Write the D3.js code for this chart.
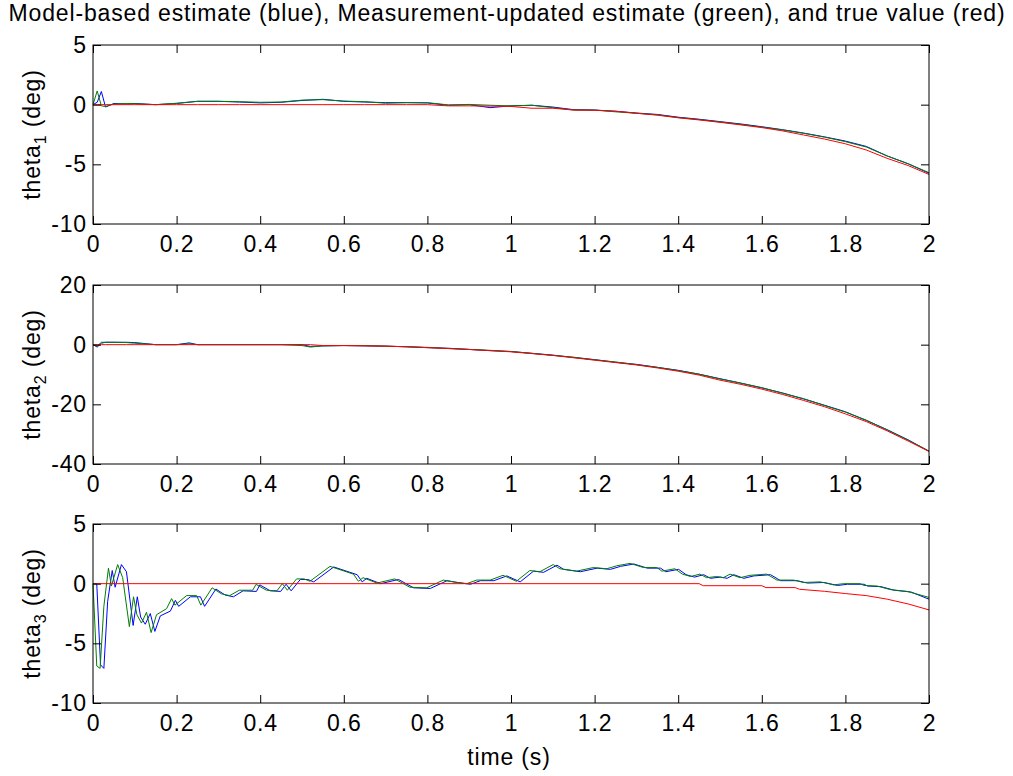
<!DOCTYPE html>
<html>
<head>
<meta charset="utf-8">
<script src="https://cdn.jsdelivr.net/npm/d3@7"></script>
<style>
  body { margin: 0; background: #fff; }
  text { font-family: "Liberation Sans", Arial, sans-serif; }
</style>
</head>
<body>
<svg id="chart" width="1013" height="776"></svg>
<script>
// ---- data ----
const xTicks = [0, 0.2, 0.4, 0.6, 0.8, 1, 1.2, 1.4, 1.6, 1.8, 2];

// theta1
const t1 = [0, 0.01, 0.02, 0.03, 0.05, 0.08, 0.1, 0.15, 0.2, 0.25, 0.3, 0.35, 0.4, 0.45, 0.5, 0.55, 0.6, 0.65, 0.7, 0.75, 0.8,
  0.85, 0.9, 0.95, 1.0, 1.05, 1.1, 1.15, 1.2, 1.25, 1.3, 1.35, 1.4, 1.45, 1.5, 1.55, 1.6, 1.65, 1.7, 1.75, 1.8, 1.85, 1.9, 1.95, 2.0];
const theta1Model = [0, 0.2, 1.1, -0.2, 0.1, 0.05, 0.1, 0.0, 0.1, 0.28, 0.28, 0.22, 0.15, 0.2, 0.35, 0.45, 0.28, 0.22, 0.17, 0.17, 0.14,
  -0.05, 0.0, -0.25, -0.1, -0.05, -0.2, -0.42, -0.45, -0.55, -0.7, -0.82, -1.05, -1.22, -1.42, -1.62, -1.85, -2.1, -2.38, -2.7, -3.05, -3.5, -4.3, -4.95, -5.75];
const theta1Meas = [0, 1.15, -0.1, -0.15, 0.05, 0.1, 0.08, 0.0, 0.12, 0.28, 0.28, 0.25, 0.2, 0.22, 0.38, 0.42, 0.3, 0.25, 0.12, 0.17, 0.17,
  -0.02, 0.02, -0.05, -0.1, -0.05, -0.25, -0.45, -0.45, -0.6, -0.72, -0.85, -1.08, -1.25, -1.45, -1.65, -1.88, -2.12, -2.4, -2.72, -3.1, -3.55, -4.3, -4.95, -5.7];
const theta1True = [0, 0, 0, 0, 0, 0, 0, 0, 0, 0, 0, 0, 0, 0, 0, 0, 0, 0, 0, 0, 0,
  -0.1, -0.1, -0.12, -0.15, -0.3, -0.3, -0.45, -0.47, -0.55, -0.72, -0.88, -1.1, -1.28, -1.48, -1.7, -1.92, -2.2, -2.54, -2.88, -3.28, -3.8, -4.5, -5.1, -5.85];

// theta2
const t2 = [0, 0.01, 0.02, 0.03, 0.05, 0.08, 0.1, 0.15, 0.2, 0.23, 0.25, 0.3, 0.35, 0.4, 0.45, 0.5, 0.52,
  0.55, 0.6, 0.65, 0.7, 0.75, 0.8, 0.85, 0.9, 0.95, 1.0, 1.05, 1.1, 1.15, 1.2, 1.25, 1.3, 1.35, 1.4, 1.45, 1.5,
  1.55, 1.6, 1.65, 1.7, 1.75, 1.8, 1.85, 1.9, 1.95, 2.0];
const theta2Model = [0, -0.8, 0.5, 0.8, 0.8, 0.8, 0.7, 0, 0, 0.6, 0, 0, 0, 0, 0, 0, -0.6,
  -0.4, -0.3, -0.4, -0.5, -0.7, -1.0, -1.2, -1.6, -2.0, -2.3, -2.9, -3.5, -4.3, -5.0, -5.9, -6.6, -7.6, -8.6, -9.9, -11.4,
  -12.9, -14.5, -16.2, -18.2, -20.3, -22.5, -25.4, -28.5, -31.9, -35.7];
const theta2Meas = [0, -0.5, 0.8, 0.8, 0.8, 0.7, 0.5, 0, 0, 0.3, 0, 0, 0, 0, 0, -0.3, -0.8,
  -0.4, -0.3, -0.3, -0.5, -0.7, -0.9, -1.3, -1.6, -1.9, -2.3, -2.9, -3.6, -4.2, -5.1, -5.8, -6.7, -7.6, -8.7, -9.9, -11.5,
  -12.9, -14.4, -16.3, -18.1, -20.4, -22.6, -25.3, -28.6, -32.0, -35.7];
const theta2True = [0, 0, 0, 0, 0, 0, 0, 0, 0, 0, 0, 0, 0, 0, 0, 0, 0,
  -0.3, -0.3, -0.4, -0.5, -0.7, -1.0, -1.3, -1.6, -2.0, -2.4, -3.0, -3.6, -4.4, -5.2, -6.0, -6.8, -7.8, -8.9, -10.2, -11.9,
  -13.3, -14.9, -16.7, -18.7, -20.8, -23.2, -25.8, -28.9, -32.3, -35.8];

// theta3
const t3Model = [0, 0.009, 0.018, 0.026, 0.035, 0.046, 0.053, 0.068, 0.080, 0.096, 0.106, 0.114, 0.125, 0.137, 0.148, 0.161,
  0.185, 0.197, 0.205, 0.233, 0.257, 0.267, 0.294, 0.316, 0.336, 0.359, 0.391, 0.399, 0.424, 0.449, 0.462, 0.474, 0.496,
  0.514, 0.528, 0.576, 0.632, 0.644, 0.655, 0.688, 0.731, 0.767, 0.807, 0.847, 0.871, 0.903, 0.927, 0.959, 0.990, 1.022,
  1.054, 1.078, 1.110, 1.126, 1.166, 1.206, 1.238, 1.262, 1.294, 1.326, 1.358, 1.370, 1.401, 1.419, 1.439, 1.461, 1.477,
  1.501, 1.517, 1.533, 1.557, 1.581, 1.621, 1.645, 1.685, 1.709, 1.749, 1.781, 1.805, 1.845, 1.853, 1.885, 1.917, 1.957, 2.0];
const theta3Model = [0, 0, -6.8, -7.1, -1.5, 1.1, -0.3, 1.6, 1.0, -3.5, -1.1, -2.8, -3.4, -2.5, -4.0, -2.7,
  -2.3, -1.4, -1.9, -1.1, -1.1, -1.9, -0.45, -0.95, -1.1, -0.6, -0.65, -0.1, -0.6, -0.65, -0.05, -0.6, 0.35,
  0.35, 0.15, 1.4, 0.75, 0.15, 0.45, 0.0, 0.35, -0.35, -0.4, 0.25, 0.1, -0.05, 0.25, 0.25, 0.65, 0.15,
  1.05, 0.95, 1.55, 1.2, 1.0, 1.3, 1.2, 1.45, 1.65, 1.3, 1.3, 1.0, 1.2, 0.75, 0.55, 0.75, 0.45,
  0.55, 0.45, 0.75, 0.45, 0.65, 0.75, 0.25, 0.25, 0.05, 0.1, -0.15, -0.05, -0.05, -0.2, -0.25, -0.55, -0.7, -1.3];
const t3Meas = [0, 0.009, 0.017, 0.026, 0.037, 0.044, 0.059, 0.071, 0.087, 0.097, 0.105, 0.116, 0.128, 0.139, 0.152,
  0.176, 0.188, 0.196, 0.224, 0.248, 0.258, 0.285, 0.307, 0.327, 0.35, 0.382, 0.39, 0.415, 0.44, 0.453, 0.465, 0.487,
  0.505, 0.519, 0.567, 0.623, 0.635, 0.646, 0.679, 0.722, 0.758, 0.798, 0.838, 0.862, 0.894, 0.918, 0.95, 0.981, 1.013,
  1.045, 1.069, 1.101, 1.117, 1.157, 1.197, 1.229, 1.253, 1.285, 1.317, 1.349, 1.361, 1.392, 1.41, 1.43, 1.452, 1.468,
  1.492, 1.508, 1.524, 1.548, 1.572, 1.612, 1.636, 1.676, 1.70, 1.74, 1.772, 1.796, 1.836, 1.844, 1.876, 1.908, 1.948, 2.0];
const theta3Meas = [0, -6.9, -7.1, -1.9, 1.3, -0.2, 1.6, 0.5, -3.6, -1.1, -2.6, -3.3, -2.4, -4.1, -2.6,
  -2.1, -1.25, -1.8, -1.0, -1.0, -1.8, -0.35, -0.85, -1.0, -0.55, -0.55, -0.06, -0.55, -0.6, 0, -0.55, 0.4,
  0.4, 0.2, 1.45, 0.8, 0.2, 0.5, 0.05, 0.4, -0.3, -0.35, 0.3, 0.15, 0, 0.3, 0.3, 0.7, 0.2,
  1.1, 1.0, 1.6, 1.25, 1.05, 1.35, 1.25, 1.5, 1.7, 1.35, 1.35, 1.05, 1.25, 0.8, 0.6, 0.8, 0.5,
  0.6, 0.5, 0.8, 0.5, 0.7, 0.8, 0.3, 0.3, 0.1, 0.15, -0.1, 0, 0, -0.15, -0.2, -0.5, -0.65, -1.15];
const t3True = [0, 1.45, 1.46, 1.6, 1.61, 1.68, 1.69, 1.75, 1.8, 1.85, 1.9, 1.95, 2.0];
const theta3True = [0, 0, -0.17, -0.17, -0.33, -0.33, -0.47, -0.64, -0.83, -1.0, -1.3, -1.7, -2.2];

const panels = [
  { sub: "1", yDomain: [-10, 5], yTicks: [-10, -5, 0, 5],
    series: [[t1, theta1Model, "#0000ff"], [t1, theta1Meas, "#008000"], [t1, theta1True, "#ff0000"]] },
  { sub: "2", yDomain: [-40, 20], yTicks: [-40, -20, 0, 20],
    series: [[t2, theta2Model, "#0000ff"], [t2, theta2Meas, "#008000"], [t2, theta2True, "#ff0000"]] },
  { sub: "3", yDomain: [-10, 5], yTicks: [-10, -5, 0, 5],
    series: [[t3Model, theta3Model, "#0000ff"], [t3Meas, theta3Meas, "#008000"], [t3True, theta3True, "#ff0000"]] }
];

// ---- layout ----
const left = 93, right = 929, plotH = 179;
const tops = [45, 285, 524];
const fontSize = 23, spacing = "0.85px";

const svg = d3.select("#chart");

const x = d3.scaleLinear().domain([0, 2]).range([left, right]);
const plain = d => String(d);   // matlab style: hyphen minus, no unicode minus

panels.forEach((p, i) => {
  const top = tops[i];
  const y = d3.scaleLinear().domain(p.yDomain).range([top + plotH, top]);
  const g = svg.append("g");

  const line = d3.line().x(d => x(d[0])).y(d => y(d[1]));
  p.series.forEach(([ts, vs, color]) => {
    g.append("path")
      .datum(ts.map((t, k) => [t, vs[k]]))
      .attr("fill", "none")
      .attr("stroke", color)
      .attr("stroke-width", 1)
      .attr("d", line);
  });

  // inward ticks on all four sides
  const ax = [
    [d3.axisBottom(x).tickValues(xTicks).tickFormat(plain), top + plotH, 0],
    [d3.axisTop(x).tickValues(xTicks).tickFormat(""), top, 0],
    [d3.axisLeft(y).tickValues(p.yTicks).tickFormat(plain), 0, left],
    [d3.axisRight(y).tickValues(p.yTicks).tickFormat(""), 0, right]
  ];
  ax.forEach(([a, ty, tx], j) => {
    a.tickSize(-8).tickSizeOuter(0).tickPadding(j === 0 ? 12 : 6);
    const ag = g.append("g")
      .attr("transform", `translate(${tx},${ty})`)
      .call(a);
    ag.select(".domain").remove();
    ag.selectAll(".tick line").attr("stroke", "#000");
    ag.selectAll(".tick text")
      .attr("fill", "#000")
      .style("font-size", fontSize + "px")
      .style("letter-spacing", spacing)
      .style("font-family", "'Liberation Sans', Arial, sans-serif");
  });

  g.append("rect")
    .attr("x", left).attr("y", top)
    .attr("width", right - left).attr("height", plotH)
    .attr("fill", "none").attr("stroke", "#000").attr("stroke-width", 1);

  const lab = g.append("text")
    .attr("transform", `translate(40,${top + plotH / 2}) rotate(-90)`)
    .attr("text-anchor", "middle")
    .style("font-size", fontSize + "px")
    .style("letter-spacing", spacing);
  lab.append("tspan").text("theta");
  lab.append("tspan").attr("dy", 6).style("font-size", "16px").text(p.sub);
  lab.append("tspan").attr("dy", -6).text(" (deg)");
});

svg.append("text")
  .attr("x", 507).attr("y", 21)
  .attr("text-anchor", "middle")
  .style("font-size", fontSize + "px")
  .style("letter-spacing", spacing)
  .text("Model-based estimate (blue), Measurement-updated estimate (green), and true value (red)");

svg.append("text")
  .attr("x", 509).attr("y", 765)
  .attr("text-anchor", "middle")
  .style("font-size", fontSize + "px")
  .style("letter-spacing", spacing)
  .text("time (s)");
</script>
</body>
</html>
